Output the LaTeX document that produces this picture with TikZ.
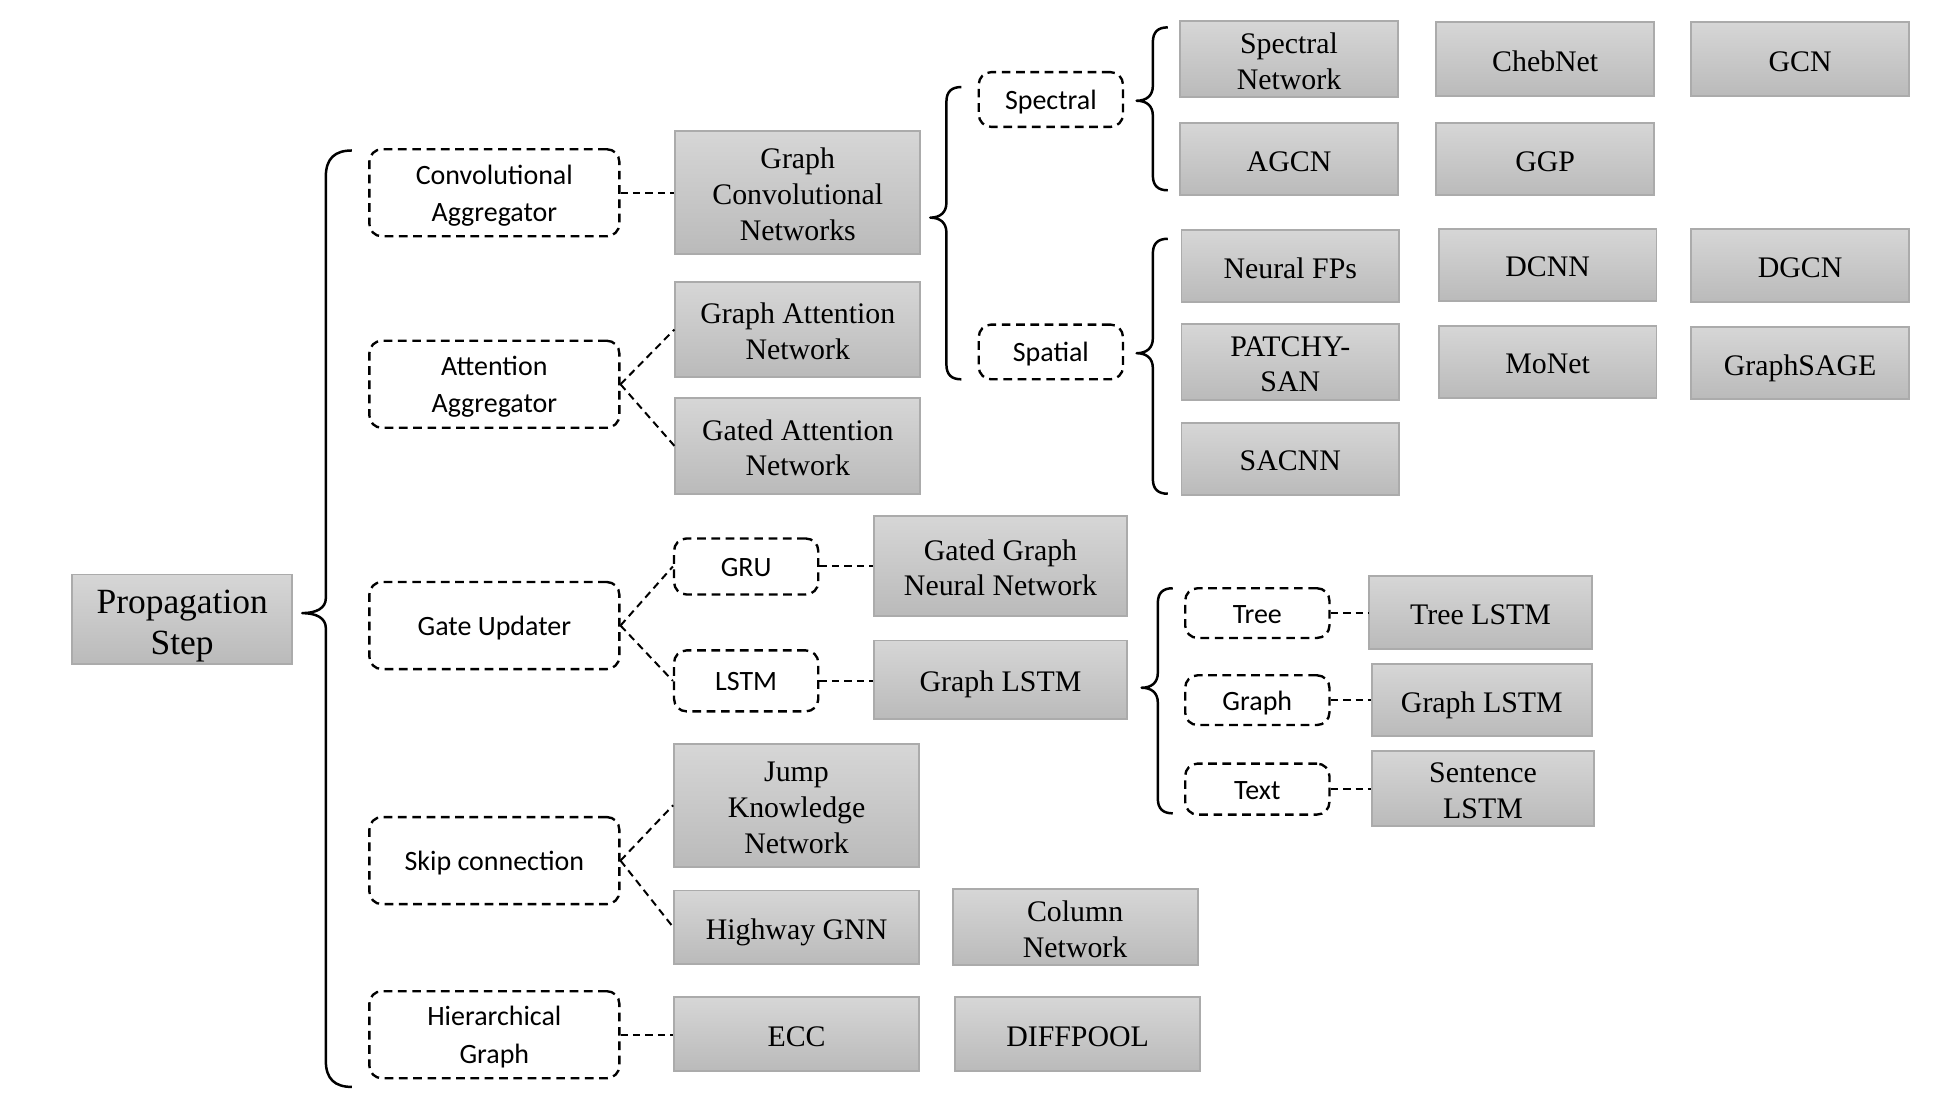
\documentclass[tikz,border=0pt]{standalone}
\usepackage{fontspec}
\setmainfont{Liberation Serif}
\newfontfamily\tnrfont{Liberation Serif}
\newfontfamily\calfont{Carlito}
\newcommand\gs{\rule{0pt}{1.07em}}
\newcommand\ds{\rule{0pt}{0.98em}}
\begin{document}
\begin{tikzpicture}[x=1pt,y=-1pt,
  gbox/.style={draw=black!33, line width=1.5pt, top color=black!16, bottom color=black!27,
    inner sep=0pt, align=center, font=\tnrfont\fontsize{24}{28.8}\selectfont,
    execute at begin node={\gs}, execute at end node={\rule[-0.26em]{0pt}{0pt}}},
  dbox/.style={draw=black, dash pattern=on 7pt off 4.5pt, line width=1.9pt, rounded corners=10pt,
    inner sep=0pt, align=center, font=\calfont\fontsize{22.5}{30}\selectfont,
    execute at begin node={\ds}, execute at end node={\rule[-0.27em]{0pt}{0pt}}},
  conn/.style={draw=black, dash pattern=on 6pt off 4pt, line width=1.6pt},
  bracestyle/.style={draw=black, line width=2pt, line join=round}]
\fill[white] (0,0) rectangle (1568,881.3);
\useasboundingbox (0,0) rectangle (1568,881.3);

% root
\node[gbox, minimum width=177pt, minimum height=72pt, font=\tnrfont\fontsize{28.5}{33}\selectfont] (ps) at (146.5,498) {\gs Propagation\\Step};

% dashed category boxes
\node[dbox, minimum width=201pt, minimum height=70pt] (ca) at (397.5,155) {\ds Convolutional\\Aggregator};
\node[dbox, minimum width=201pt, minimum height=70pt] (aa) at (397.5,309) {\ds Attention\\Aggregator};
\node[dbox, minimum width=201pt, minimum height=70pt] (gu) at (397.5,503) {Gate Updater};
\node[dbox, minimum width=201pt, minimum height=70pt] (sc) at (397.5,692) {Skip connection};
\node[dbox, minimum width=201pt, minimum height=70pt] (hg) at (397.5,832) {\ds Hierarchical\\Graph};
\node[dbox, minimum width=116pt, minimum height=45pt] (gru) at (600,455.5) {GRU};
\node[dbox, minimum width=116pt, minimum height=49pt] (lstm) at (600,547.5) {LSTM};
\node[dbox, minimum width=116pt, minimum height=44pt] (spec) at (845,80) {Spectral};
\node[dbox, minimum width=116pt, minimum height=44pt] (spat) at (845,283) {Spatial};
\node[dbox, minimum width=116pt, minimum height=40pt] (tree) at (1011,493) {Tree};
\node[dbox, minimum width=116pt, minimum height=40pt] (graph) at (1011,563) {Graph};
\node[dbox, minimum width=116pt, minimum height=41pt] (text) at (1011,634.5) {Text};

% gray boxes
\node[gbox, minimum width=197pt, minimum height=99pt] (gcn) at (641.5,154.5) {\gs Graph\\Convolutional\\Networks};
\node[gbox, minimum width=197pt, minimum height=76pt] (gan) at (641.5,265) {\gs Graph Attention\\Network};
\node[gbox, minimum width=197pt, minimum height=77pt] (gatn) at (641.5,358.5) {\gs Gated Attention\\Network};
\node[gbox, minimum width=203pt, minimum height=80pt] (ggnn) at (804.5,455) {\gs Gated Graph\\Neural Network};
\node[gbox, minimum width=203pt, minimum height=63pt] (glstm) at (804.5,546.5) {Graph LSTM};
\node[gbox, minimum width=197pt, minimum height=99pt] (jkn) at (640.5,647.5) {\gs Jump\\Knowledge\\Network};
\node[gbox, minimum width=197pt, minimum height=59pt] (hgnn) at (640.5,745.5) {Highway GNN};
\node[gbox, minimum width=197pt, minimum height=59pt] (coln) at (864.5,745.5) {\gs Column\\Network};
\node[gbox, minimum width=197pt, minimum height=59pt] (ecc) at (640.5,831.5) {ECC};
\node[gbox, minimum width=197pt, minimum height=59pt] (diff) at (866.5,831.5) {DIFFPOOL};

\node[gbox, minimum width=175pt, minimum height=59pt] (specn) at (1036.5,47.5) {\gs Spectral\\Network};
\node[gbox, minimum width=175pt, minimum height=59pt] (cheb) at (1242.5,47.5) {ChebNet};
\node[gbox, minimum width=175pt, minimum height=59pt] (gcnb) at (1447.5,47.5) {GCN};
\node[gbox, minimum width=175pt, minimum height=58pt] (agcn) at (1036.5,128) {AGCN};
\node[gbox, minimum width=175pt, minimum height=58pt] (ggp) at (1242.5,128) {GGP};
\node[gbox, minimum width=175pt, minimum height=58pt] (nfp) at (1037.5,214) {Neural FPs};
\node[gbox, minimum width=175pt, minimum height=58pt] (dcnn) at (1244.5,213) {DCNN};
\node[gbox, minimum width=175pt, minimum height=59pt] (dgcn) at (1447.5,213.5) {DGCN};
\node[gbox, minimum width=175pt, minimum height=58pt] (patchy) at (1037.5,291) {\gs PATCHY-\\SAN};
\node[gbox, minimum width=175pt, minimum height=58pt] (monet) at (1244.5,291) {MoNet};
\node[gbox, minimum width=175pt, minimum height=58pt] (gsage) at (1447.5,292) {GraphSAGE};
\node[gbox, minimum width=175pt, minimum height=58pt] (sacnn) at (1037.5,369) {SACNN};

\node[gbox, minimum width=179pt, minimum height=59pt] (tlstm) at (1190.5,492.5) {Tree LSTM};
\node[gbox, minimum width=177pt, minimum height=58pt] (glstmb) at (1191.5,563) {Graph LSTM};
\node[gbox, minimum width=179pt, minimum height=58pt] (slstm) at (1192.5,634) {\gs Sentence\\LSTM};

% dashed connectors
\draw[conn] (ca.east) -- (ca.east -| gcn.west);
\draw[conn] (aa.east) -- (gan.west);
\draw[conn] (aa.east) -- (gatn.west);
\draw[conn] (gu.east) -- (gru.west);
\draw[conn] (gu.east) -- (lstm.west);
\draw[conn] (gru.east) -- (gru.east -| ggnn.west);
\draw[conn] (lstm.east) -- (lstm.east -| glstm.west);
\draw[conn] (sc.east) -- (jkn.west);
\draw[conn] (sc.east) -- (hgnn.west);
\draw[conn] (hg.east) -- (hg.east -| ecc.west);
\draw[conn] (tree.east) -- (tree.east -| tlstm.west);
\draw[conn] (graph.east) -- (graph.east -| glstmb.west);
\draw[conn] (text.east) -- (text.east -| slstm.west);

% braces: #1 x of spine, #2 top y, #3 tip y, #4 bottom y, #5 hook width, #6 tip depth
\newcommand\mybrace[6]{%
  \draw[bracestyle] ({#1+#5},#2) .. controls ({#1+0.35*#5},#2) and (#1,{#2+0.3*#5}) .. (#1,{#2+#5})
    -- (#1,{#3-12}) .. controls (#1,{#3-4}) and ({#1-0.4*#6},#3) .. ({#1-#6},#3)
    .. controls ({#1-0.4*#6},#3) and (#1,{#3+4}) .. (#1,{#3+12})
    -- (#1,{#4-#5}) .. controls (#1,{#4-0.3*#5}) and ({#1+0.35*#5},#4) .. ({#1+#5},#4);}
\mybrace{262}{121}{493}{874}{21}{19}
\mybrace{761}{70}{175}{305}{12}{13}
\mybrace{927}{22}{81}{153}{12}{13}
\mybrace{927}{192}{284}{397}{12}{13}
\mybrace{931}{473}{553}{654}{12}{13}
\end{tikzpicture}
\end{document}
